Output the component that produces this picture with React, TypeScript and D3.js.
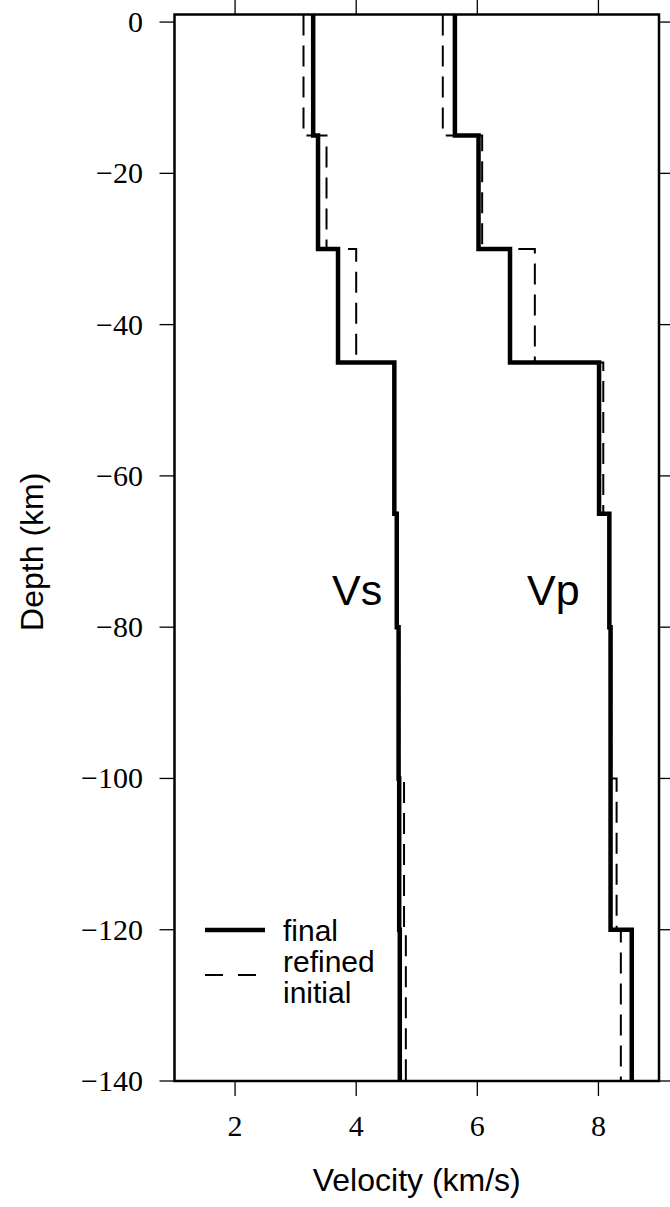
import React from 'react';
import * as d3 from 'd3';

// Layer boundaries (km below surface) shared by all four profiles
const layerDepths = [0, 15, 30, 45, 65, 80, 100, 120, 140];
// Layer velocities (km/s), one value per layer
const vsFinal = [3.29, 3.37, 3.7, 4.63, 4.67, 4.7, 4.71, 4.72];
const vsInitial = [3.13, 3.51, 4.0, 4.64, 4.68, 4.71, 4.79, 4.82];
const vpFinal = [5.63, 6.02, 6.54, 8.01, 8.18, 8.2, 8.2, 8.55];
const vpInitial = [5.43, 6.08, 6.95, 8.08, 8.19, 8.21, 8.3, 8.37];

const velocityTicks = [2, 4, 6, 8];
const depthTicks = [0, -20, -40, -60, -80, -100, -120, -140];
const legendLabels = ['final', 'refined', 'initial'];

const W = 670;
const H = 1207;
const left = 174.5;
const right = 659;
const top = 14.5;
const bottom = 1081;

const x = d3.scaleLinear().domain([1, 9]).range([left, right]);
const y = d3.scaleLinear().domain([1, -140]).range([top, bottom]);

const serif = '"Liberation Serif", "Times New Roman", serif';
const sans = '"Liberation Sans", Arial, Helvetica, sans-serif';

// Build a stepped depth profile: each layer is a vertical segment,
// joined to the next by a horizontal step at the boundary.
function profile(values: number[]): [number, number][] {
  const pts: [number, number][] = [];
  values.forEach((v, i) => {
    const d0 = i === 0 ? y.domain()[0] : -layerDepths[i];
    const d1 = -layerDepths[i + 1];
    pts.push([x(v), y(d0)]);
    pts.push([x(v), y(d1)]);
  });
  return pts;
}

const line = d3.line<[number, number]>();

export default function App() {
  const tick = 15;
  return (
    <svg
      width={W}
      height={H}
      viewBox={`0 0 ${W} ${H}`}
      style={{ position: 'absolute', left: 0, top: 0, background: '#fff' }}
    >
      <rect x={0} y={0} width={W} height={H} fill="#fff" />

      {/* initial models (dashed) */}
      {[vsInitial, vpInitial].map((vals, i) => (
        <path
          key={`ini-${i}`}
          d={line(profile(vals)) || ''}
          fill="none"
          stroke="#000"
          strokeWidth={2}
          strokeDasharray="21 10"
        />
      ))}

      {/* final models (thick) */}
      {[vsFinal, vpFinal].map((vals, i) => (
        <path
          key={`fin-${i}`}
          d={line(profile(vals)) || ''}
          fill="none"
          stroke="#000"
          strokeWidth={4.5}
          strokeLinejoin="miter"
        />
      ))}

      {/* frame */}
      <rect
        x={left}
        y={top}
        width={right - left}
        height={bottom - top}
        fill="none"
        stroke="#000"
        strokeWidth={2.5}
      />

      {/* depth ticks, both sides */}
      {depthTicks.map((t) => (
        <g key={`yt-${t}`}>
          <line x1={left - tick} x2={left} y1={y(t)} y2={y(t)} stroke="#000" strokeWidth={1.3} />
          <line x1={right} x2={right + tick} y1={y(t)} y2={y(t)} stroke="#000" strokeWidth={1.3} />
          <text
            x={143}
            y={y(t) + 10}
            textAnchor="end"
            fontFamily={serif}
            fontSize={30}
            fill="#000"
          >
            {t === 0 ? '0' : `\u2212${Math.abs(t)}`}
          </text>
        </g>
      ))}

      {/* velocity ticks, top and bottom */}
      {velocityTicks.map((t) => (
        <g key={`xt-${t}`}>
          <line x1={x(t)} x2={x(t)} y1={bottom} y2={bottom + tick} stroke="#000" strokeWidth={1.3} />
          <line x1={x(t)} x2={x(t)} y1={top - tick} y2={top} stroke="#000" strokeWidth={1.3} />
          <text
            x={x(t)}
            y={1136}
            textAnchor="middle"
            fontFamily={serif}
            fontSize={30}
            fill="#000"
          >
            {t}
          </text>
        </g>
      ))}

      {/* axis titles */}
      <text
        x={(left + right) / 2}
        y={1191}
        textAnchor="middle"
        fontFamily={sans}
        fontSize={32}
        fill="#000"
      >
        Velocity (km/s)
      </text>
      <text
        transform={`translate(43, ${(top + bottom) / 2 + 4}) rotate(-90)`}
        textAnchor="middle"
        fontFamily={sans}
        fontSize={32}
        fill="#000"
      >
        Depth (km)
      </text>

      {/* profile labels */}
      <text x={332} y={605} fontFamily={sans} fontSize={43} fill="#000">
        Vs
      </text>
      <text x={527} y={605} fontFamily={sans} fontSize={43} fill="#000">
        Vp
      </text>

      {/* legend */}
      <line x1={205} x2={265} y1={930} y2={930} stroke="#000" strokeWidth={4.5} />
      <line
        x1={205}
        x2={258}
        y1={975}
        y2={975}
        stroke="#000"
        strokeWidth={2}
        strokeDasharray="18 15"
      />
      {legendLabels.map((lab, i) => (
        <text
          key={lab}
          x={283}
          y={941 + i * 31}
          fontFamily={sans}
          fontSize={30}
          fill="#000"
        >
          {lab}
        </text>
      ))}
    </svg>
  );
}
